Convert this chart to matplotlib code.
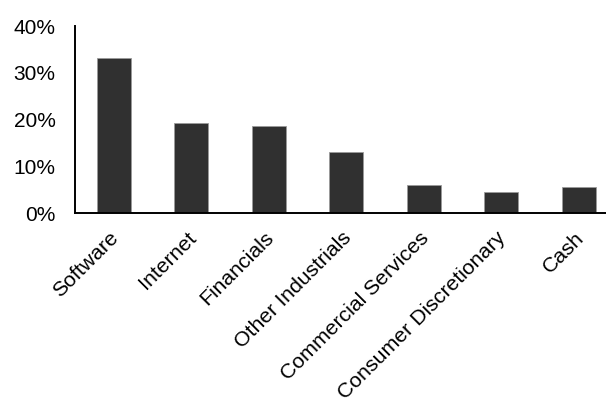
import numpy as np
import matplotlib
matplotlib.use("Agg")
import matplotlib.pyplot as plt
import matplotlib.transforms as mtransforms
from matplotlib.ticker import PercentFormatter

sectors = ["Software", "Internet", "Financials", "Other Industrials",
           "Commercial Services", "Consumer Discretionary", "Cash"]
weights = [33.2, 19.3, 18.6, 13.0, 5.9, 4.5, 5.6]

plt.rcParams['font.family'] = ['Liberation Sans', 'DejaVu Sans']

fig = plt.figure(figsize=(6.06, 3.98), dpi=100)
ax = fig.add_axes([75 / 606, 1 - 213 / 398, 531 / 606, (213 - 26) / 398])

x = np.arange(len(sectors))
ax.bar(x, weights, width=0.44, color='#303030', edgecolor='#9a9a9a', linewidth=0.6)

ax.set_ylim(0, 40)
ax.set_xlim(-0.5, 6.35)
ax.set_yticks([0, 10, 20, 30, 40])
ax.yaxis.set_major_formatter(PercentFormatter(decimals=0))
ax.set_xticks(x)
ax.set_xticklabels(sectors, rotation=45, ha='right', rotation_mode='anchor')

ax.tick_params(axis='y', length=0, pad=14, labelsize=15)
ax.tick_params(axis='x', length=0, pad=11, labelsize=15.3)

offset = mtransforms.ScaledTranslation(-5 / 100, 0, fig.dpi_scale_trans)
for lab in ax.get_xticklabels():
    lab.set_transform(lab.get_transform() + offset)

for s in ['top', 'right']:
    ax.spines[s].set_visible(False)
for s in ['left', 'bottom']:
    ax.spines[s].set_linewidth(1.4)
    ax.spines[s].set_color('black')

fig.savefig("out.png", dpi=100)
